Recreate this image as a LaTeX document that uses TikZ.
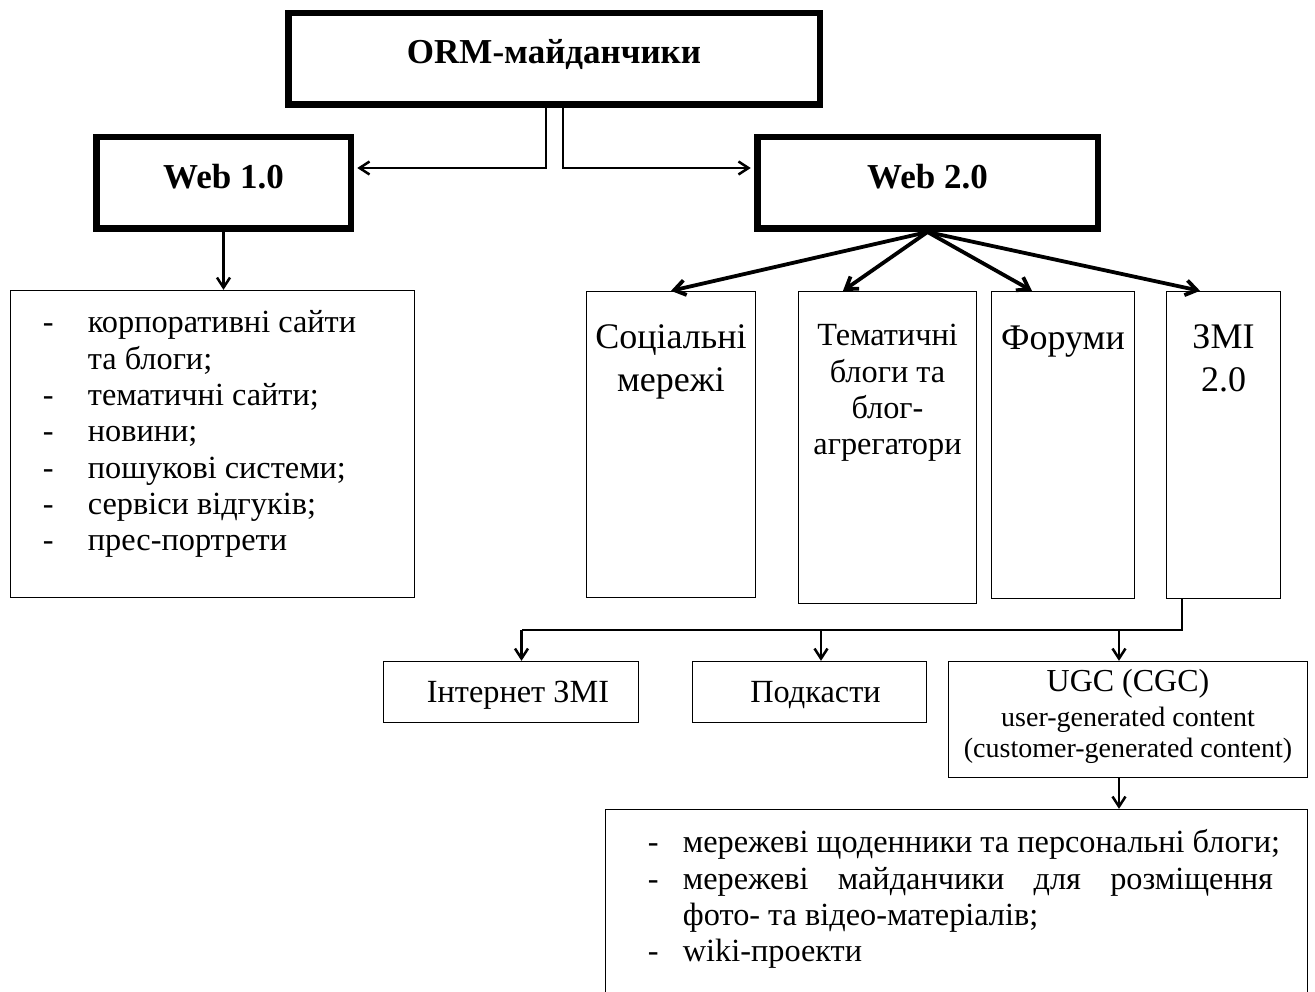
\documentclass[tikz,border=0pt]{standalone}
\usepackage{fontspec}
\setmainfont{Liberation Serif}
\usetikzlibrary{arrows.meta}
\usetikzlibrary{calc}

% text inside the boxes: width, height, first baseline, text
\newcommand{\boxtxt}[4]{\parbox[c][#2pt][t]{#1pt}{\centering\rule{0pt}{#3pt}#4}}
\newcommand{\listtxt}[4]{\parbox[c][#2pt][t]{#1pt}{\raggedright\rule{0pt}{#3pt}#4}}
\newcommand{\headfont}{\fontsize{35}{40}\selectfont\bfseries}
\newcommand{\txtfont}{\fontsize{32.3}{36.3}\selectfont}
\newcommand{\colfont}{\fontsize{36}{43}\selectfont}
\newcommand{\smallfont}{\fontsize{28}{31}\selectfont}

\begin{document}
\begin{tikzpicture}[x=1pt, y=-1pt,
  bigbox/.style={draw, line width=6.5pt, inner sep=0pt},
  thinbox/.style={draw, line width=1.3pt, inner sep=0pt},
  conn/.style={line width=2.5pt, -{Straight Barb[length=10pt,width=13pt]}},
  fan/.style={line width=3.8pt, -{Straight Barb[length=11pt,width=15pt]}},
  bus/.style={line width=2.5pt}]
  \useasboundingbox (0,0) rectangle (1315,992);

  \node[bigbox] (orm) at (554,59) {\boxtxt{531.5}{91.5}{49.8}{\headfont ORM-майданчики}};
  \node[bigbox] (web1) at (223.5,183) {\boxtxt{254.5}{91.5}{50.8}{\headfont Web 1.0}};
  \node[bigbox] (web2) at (927.5,183) {\boxtxt{340.5}{91.5}{50.8}{\headfont Web 2.0}};

  \node[thinbox] (list1) at (212.5,444) {\listtxt{404}{307}{42.4}{\txtfont
    \hspace*{32.4pt}\makebox[45pt][l]{-}корпоративні сайти\\
    \hspace*{77.4pt}та блоги;\\
    \hspace*{32.4pt}\makebox[45pt][l]{-}тематичні сайти;\\
    \hspace*{32.4pt}\makebox[45pt][l]{-}новини;\\
    \hspace*{32.4pt}\makebox[45pt][l]{-}пошукові системи;\\
    \hspace*{32.4pt}\makebox[45pt][l]{-}сервіси відгуків;\\
    \hspace*{32.4pt}\makebox[45pt][l]{-}прес-портрети}};

  \node[thinbox] (soc) at (671,444.5) {\boxtxt{169}{306}{57.4}{\colfont Соціальні\\мережі}};
  \node[thinbox] (tem) at (887.5,447.5) {\boxtxt{178}{312}{54.4}{\txtfont Тематичні\\блоги та\\блог-\\агрегатори}};
  \node[thinbox] (for) at (1063,445) {\boxtxt{143}{307}{58}{\colfont Форуми}};
  \node[thinbox] (zmi) at (1223.5,445) {\boxtxt{114}{307}{57.4}{\colfont ЗМІ\\2.0}};

  \node[thinbox] (inet) at (511,692) {\boxtxt{255}{61}{41.4}{\txtfont\hspace*{14pt}Інтернет ЗМІ}};
  \node[thinbox] (pod) at (809.5,692) {\boxtxt{234}{61}{41.4}{\txtfont\hspace*{12pt}Подкасти}};
  \node[thinbox] (ugc) at (1128,719.5) {\boxtxt{359}{116}{30.4}{\fontsize{32}{35}\selectfont UGC (CGC)\\[4pt]
    \smallfont user-generated content\\(customer-generated content)}};

  \node[thinbox] (list2) at (956.5,909.5) {\listtxt{702}{200}{43.4}{\txtfont
    \hspace*{42.4pt}\makebox[35pt][l]{-}мережеві щоденники та персональні блоги;\\
    \hspace*{42.4pt}\makebox[35pt][l]{-}\makebox[590pt][s]{мережеві\hfill майданчики\hfill для\hfill розміщення}\\
    \hspace*{77.4pt}фото- та відео-матеріалів;\\
    \hspace*{42.4pt}\makebox[35pt][l]{-}wiki-проекти}};

  \draw[conn, shorten >=3.25pt] ([xshift=-8pt]orm.south) |- ([yshift=15pt]web1.east);
  \draw[conn, shorten >=3.25pt] ([xshift=9pt]orm.south) |- ([yshift=15pt]web2.west);
  \draw[conn] (web1.south) -- (web1.south |- list1.north);

  \draw[fan] (web2.south) -- (soc.north);
  \draw[fan] (web2.south) -- ([xshift=-44.5pt]tem.north);
  \draw[fan] (web2.south) -- ([xshift=-31pt]for.north);
  \draw[fan] (web2.south) -- ([xshift=-23.5pt]zmi.north);

  \coordinate (busL) at (521.5,630);
  \draw[bus] ([xshift=-41.5pt]zmi.south) |- (busL);
  \draw[conn] (busL) -- (busL |- inet.north);
  \draw[conn] ([xshift=11.5pt]pod.north |- busL) -- ([xshift=11.5pt]pod.north);
  \draw[conn] ([xshift=-9pt]ugc.north |- busL) -- ([xshift=-9pt]ugc.north);
  \draw[conn] ([xshift=-9pt]ugc.south) -- ([xshift=-9pt]ugc.south |- list2.north);
\end{tikzpicture}
\end{document}
